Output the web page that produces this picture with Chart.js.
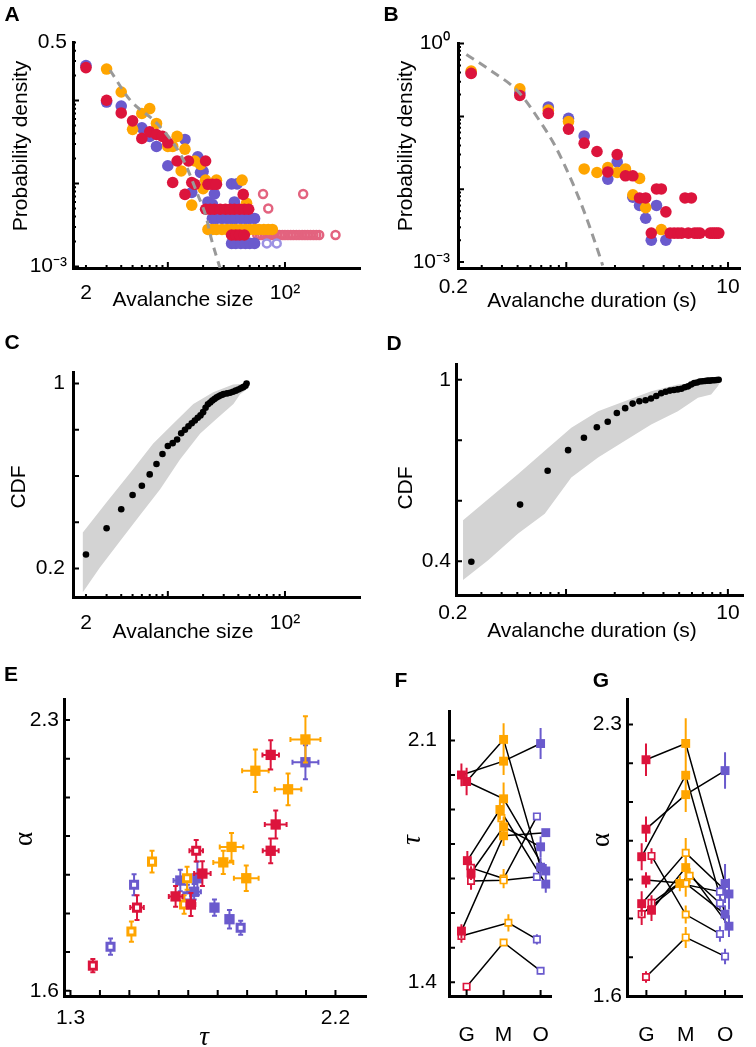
<!DOCTYPE html>
<html lang="en">
<head>
<meta charset="UTF-8">
<title>Avalanche statistics</title>
<style>
  html, body { margin: 0; background: #fff; }
  body {
    position: relative;
    width: 756px;
    height: 1047px;
    overflow: hidden;
    font-family: "Liberation Sans", Arial, sans-serif;
    color: #000;
  }
  canvas { position: absolute; }
  .t {
    position: absolute;
    transform: translate(-50%, -50%);
    font-size: 21px;
    line-height: 1;
    white-space: nowrap;
  }
  .r { transform: translate(-50%, -50%) rotate(-90deg); }
  .k { font-weight: bold; }
  .s { font-family: "Liberation Serif", serif; font-size: 27px; }
  .i { font-style: italic; }
</style>
</head>
<body>
  <canvas id="pA"></canvas>
  <canvas id="pB"></canvas>
  <canvas id="pC"></canvas>
  <canvas id="pD"></canvas>
  <canvas id="pE"></canvas>
  <canvas id="pF"></canvas>
  <canvas id="pG"></canvas>

  <div class="t k" style="left:12px;top:13px">A</div>
  <div class="t k" style="left:391px;top:13px">B</div>
  <div class="t k" style="left:12px;top:341px">C</div>
  <div class="t k" style="left:394px;top:342px">D</div>
  <div class="t k" style="left:11px;top:673px">E</div>
  <div class="t k" style="left:401px;top:679px">F</div>
  <div class="t k" style="left:601px;top:679px">G</div>

  <div class="t r" style="left:19px;top:146px">Probability density</div>
  <div class="t" style="left:183px;top:298px">Avalanche size</div>
  <div class="t r" style="left:404px;top:146px">Probability density</div>
  <div class="t" style="left:592px;top:299px">Avalanche duration (s)</div>
  <div class="t r" style="left:17px;top:487px">CDF</div>
  <div class="t" style="left:183px;top:630px">Avalanche size</div>
  <div class="t r" style="left:404px;top:488px">CDF</div>
  <div class="t" style="left:592px;top:629px">Avalanche duration (s)</div>
  <div class="t r s" style="left:23px;top:839px">α</div>
  <div class="t s i" style="left:204px;top:1036px">τ</div>
  <div class="t r s i" style="left:411px;top:840px">τ</div>
  <div class="t r s" style="left:600px;top:840px">α</div>

  <script src="https://cdn.jsdelivr.net/npm/chart.js"></script>
  <script>
    Chart.defaults.font.family = '"Liberation Sans", Arial, sans-serif';
    Chart.defaults.font.size = 21;
    Chart.defaults.color = '#000';

    const RED = '#dc143c', ORANGE = '#ffa500', BLUE = '#6a5acd';
    const PINK = '#e3637f', LILAC = '#9d92e3', GREY = '#999999', BAND = '#d3d3d3';

    // === A: avalanche size, probability density  [size, density]
    const aBlue = [[2,0.265],[3,0.096],[4,0.086],[6,0.047],[7,0.037],[8,0.028],[10,0.0164],[14,0.034],
      [16,0.0078],[18,0.021],[19,0.0136],[20,0.014],[22,0.006],[24,0.0056],[25,0.0075],[35,0.0099],
      [39,0.0099],[37,0.006],
      [24,0.0038],[26,0.0038],[29,0.0038],[32,0.0038],[35,0.0038],[38,0.0038],[42,0.0038],[46,0.0038],
      [50,0.0038],[55,0.0038],
      [35,0.0019],[38,0.0019],[42,0.0019],[46,0.0019],[50,0.0019],[55,0.0019]];
    const aOrange = [[3,0.24],[4,0.127],[5,0.045],[6,0.07],[7,0.08],[8,0.053],[10,0.028],[11,0.028],
      [12,0.037],[13,0.0142],[14,0.026],[16,0.0055],[17,0.0187],[19,0.017],[20,0.0087],[21,0.011],
      [26,0.011],[43,0.011],[47,0.0058],
      [22,0.0028],[24,0.0028],[26,0.0028],[29,0.0028],[32,0.0028],[35,0.0028],[38,0.0028],[42,0.0028],
      [46,0.0028],[50,0.0028],[55,0.0028],[60,0.0028],[66,0.0028],[72,0.0028],[78,0.0028]];
    const aRed = [[2,0.25],[3,0.101],[4,0.071],[5,0.057],[6,0.035],[7,0.042],[8,0.039],[9,0.037],
      [10,0.031],[11,0.0103],[12,0.0187],[14,0.0074],[15,0.0187],[16,0.0103],[17,0.0098],[21,0.0187],
      [22,0.0098],[24,0.0098],[26,0.0098],[44,0.0074],
      [21,0.0049],[23,0.0049],[25,0.0049],[28,0.0049],[31,0.0049],[34,0.0049],[37,0.0049],[41,0.0049],
      [45,0.0049],[49,0.0049],
      [35,0.0024],[38,0.0024],[41,0.0024],[45,0.0024]];
    const aPinkOpen = [[65,0.0075],[143,0.0075],[72,0.005],[270,0.0024],
      [58,0.0024],[61,0.0024],[64,0.0024],[68,0.0024],[72,0.0024],[76,0.0024],[80,0.0024],[85,0.0024],
      [90,0.0024],[95,0.0024],[100,0.0024],[106,0.0024],[112,0.0024],[118,0.0024],[125,0.0024],
      [132,0.0024],[140,0.0024],[148,0.0024],[156,0.0024],[165,0.0024],[175,0.0024],[185,0.0024],
      [196,0.0024]];
    const aLilacOpen = [[70,0.0019],[85,0.0019]];
    const aFit = [[3.21,0.232],[4.75,0.102],[8.24,0.0514],[13.2,0.0208],[18.1,0.0072],[21.2,0.004],
      [23.3,0.00226],[25.3,0.0015],[27.9,0.00096]];

    // === B: avalanche duration, probability density  [duration (s), density]
    const bBlue = [[0.258,0.40],[0.516,0.21],[0.774,0.135],[1.032,0.094],[1.29,0.054],[1.806,0.0138],
      [2.064,0.0237],[2.58,0.0078],[2.838,0.006],[3.096,0.004],[3.354,0.002],[3.612,0.006],[4.128,0.002]];
    const bOrange = [[0.258,0.42],[0.516,0.239],[0.774,0.122],[1.032,0.085],[1.29,0.019],[1.548,0.017],
      [1.806,0.0198],[2.064,0.017],[2.322,0.019],[2.58,0.0084],[2.838,0.0141],[3.096,0.0056],[3.87,0.0028]];
    const bRed = [[0.258,0.39],[0.516,0.194],[0.774,0.11],[1.032,0.067],[1.29,0.043],[1.548,0.033],
      [1.806,0.0173],[2.064,0.030],[2.322,0.0153],[2.58,0.0153],[2.838,0.0076],[3.096,0.0076],
      [3.354,0.0025],[3.612,0.0101],[3.87,0.0101],[4.128,0.0049],[5.418,0.0076],[5.934,0.0076],
      [4.386,0.0025],[4.644,0.0025],[4.902,0.0025],[5.16,0.0025],[5.676,0.0025],[6.192,0.0025],
      [6.45,0.0025],[6.708,0.0025],[7.74,0.0025],[8.0,0.0025],[8.256,0.0025],[8.514,0.0025],[8.77,0.0025]];
    const bFit = [[0.241,0.71],[0.331,0.446],[0.505,0.218],[0.721,0.073],[0.855,0.039],[1.09,0.0124],
      [1.31,0.0045],[1.55,0.00155],[1.68,0.0009]];

    // === C: CDF of avalanche size, data and surrogate band
    const cSize = [2,3,4,5,6,7,8,9,10,11,12,13,14,15,16,17,18,19,20,21,22,23,24,25,26,27,28,29,30,
      32,34,36,38,40,42,44,46,47];
    const cCdf = [0.261,0.374,0.456,0.518,0.558,0.607,0.652,0.695,0.73,0.742,0.758,0.785,0.80,0.815,
      0.828,0.84,0.852,0.862,0.876,0.895,0.91,0.918,0.926,0.933,0.939,0.944,0.948,0.951,0.954,
      0.957,0.96,0.964,0.969,0.974,0.979,0.984,0.99,1.0];
    const cBandHi = [[1.88,0.356],[3.0,0.487],[5.03,0.628],[7.5,0.741],[11.1,0.826],[16.5,0.911],
      [24.4,0.962],[36,0.996],[48.6,1.0]];
    const cBandLo = [[1.88,0.097],[2.63,0.204],[3.9,0.318],[5.8,0.431],[8.6,0.543],[12.7,0.671],
      [18.9,0.784],[26.1,0.847],[36.3,0.911],[41.4,0.953],[47.3,0.975]];

    // === D: CDF of avalanche duration
    const dDur = [0.26,0.52,0.77,1.03,1.29,1.55,1.81,2.06,2.32,2.58,2.84,3.1,3.35,3.61,3.87,4.13,
      4.39,4.64,4.9,5.16,5.42,5.68,5.93,6.19,6.45,6.71,6.97,7.22,7.48,7.74,8.0,8.26,8.51,8.77];
    const dCdf = [0.398,0.587,0.699,0.767,0.808,0.843,0.861,0.89,0.906,0.921,0.929,0.932,0.938,0.946,
      0.955,0.96,0.964,0.966,0.968,0.97,0.975,0.978,0.984,0.989,0.991,0.994,0.995,0.996,0.997,0.997,
      0.998,0.998,0.999,1.0];
    const dBandHi = [[0.231,0.535],[0.506,0.688],[0.739,0.765],[1.078,0.841],[1.577,0.896],[2.30,0.929],
      [3.36,0.962],[4.91,0.984],[7.88,0.994],[9.09,0.998]];
    const dBandLo = [[0.231,0.338],[0.33,0.403],[0.506,0.491],[0.739,0.557],[1.078,0.677],[1.577,0.743],
      [2.30,0.797],[3.36,0.852],[4.91,0.896],[6.53,0.94],[7.88,0.951],[8.67,0.978]];

    // === E: alpha vs tau  [tau, alpha, tau err, alpha err, open]
    const eRed = [[1.376,1.665,0.008,0.017,1],[1.526,1.815,0.023,0.032,1],[1.727,1.962,0.023,0.028,1],
      [1.657,1.844,0.023,0.027,0],[1.709,1.823,0.015,0.03,0],[1.748,1.903,0.028,0.032,0],
      [1.98,1.962,0.027,0.032,0],[1.997,2.03,0.037,0.036,0],[1.98,2.21,0.028,0.038,0]];
    const eOrange = [[1.507,1.753,0.008,0.026,1],[1.577,1.934,0.01,0.028,1],[1.686,1.823,0.01,0.024,1],
      [1.696,1.891,0.01,0.03,1],[1.819,1.932,0.034,0.03,0],[1.847,1.972,0.04,0.036,0],
      [1.897,1.891,0.042,0.033,0],[1.928,2.169,0.045,0.055,0],[2.039,2.121,0.045,0.041,0],
      [2.098,2.25,0.051,0.06,0]];
    const eBlue = [[1.436,1.714,0.01,0.021,1],[1.516,1.874,0.01,0.027,1],[1.697,1.844,0.01,0.03,1],
      [1.878,1.763,0.01,0.018,1],[1.673,1.885,0.023,0.028,0],[1.72,1.856,0.023,0.02,0],
      [1.731,1.891,0.01,0.043,0],[1.789,1.815,0.01,0.021,0],[1.84,1.785,0.01,0.024,0],
      [2.098,2.191,0.044,0.044,0]];

    // === F: tau per condition  [position, tau, err, open]; links = [G, M, O] indexes
    const fRed = [[0.86,2.0,0.033,0],[1.0,1.981,0.04,0],[1.02,1.752,0.028,0],[1.12,1.716,0.02,0],
      [1.12,1.731,0.02,1],[1.12,1.693,0.025,1],[0.86,1.548,0.02,0],[0.86,1.534,0.02,1],[1.0,1.387,0.01,1]];
    const fOrange = [[2.0,2.103,0.047,0],[2.0,2.04,0.04,0],[2.0,1.931,0.047,0],[1.9,1.9,0.03,0],
      [1.94,1.875,0.03,1],[2.0,1.85,0.03,0],[2.0,1.824,0.03,0],[2.0,1.70,0.028,1],[2.13,1.572,0.025,1],
      [2.0,1.515,0.01,1],[2.0,1.695,0.02,1]];
    const fBlue = [[3.0,2.091,0.045,0],[2.9,1.88,0.01,1],[3.14,1.833,0.01,0],[3.0,1.792,0.03,0],
      [3.0,1.733,0.028,0],[3.14,1.722,0.02,0],[3.14,1.684,0.025,0],[2.9,1.705,0.01,1],
      [2.9,1.524,0.015,1],[3.0,1.433,0.01,1]];
    const fLinks = [[1,0,4],[0,1,0],[1,2,5],[2,3,6],[3,5,3],[6,6,2],[4,7,1],[5,10,7],[7,8,8],[8,9,9]];

    // === G: alpha per condition
    const gRed = [[0.99,2.209,0.042,0],[0.99,2.03,0.033,0],[0.88,1.959,0.035,0],[1.13,1.961,0.02,1],
      [0.99,1.899,0.02,0],[0.88,1.838,0.032,0],[1.13,1.84,0.02,1],[1.13,1.821,0.028,0],
      [0.88,1.811,0.028,1],[0.99,1.649,0.015,1]];
    const gOrange = [[2.0,2.251,0.065,0],[2.0,2.169,0.045,0],[2.0,2.119,0.045,0],[2.0,1.969,0.038,1],
      [2.0,1.931,0.03,0],[2.1,1.91,0.02,1],[1.85,1.89,0.02,0],[2.0,1.89,0.034,1],[2.0,1.81,0.023,1],
      [2.0,1.751,0.027,1]];
    const gBlue = [[3.0,2.181,0.047,0],[3.0,1.89,0.05,0],[3.1,1.863,0.04,0],[2.87,1.869,0.015,1],
      [2.87,1.839,0.015,1],[3.0,1.811,0.023,0],[3.1,1.78,0.028,0],[2.87,1.76,0.02,1],[3.0,1.702,0.02,1]];
    const gLinks = [[0,0,1],[1,2,0],[2,1,5],[3,8,7],[4,7,5],[5,3,2],[6,5,4],[7,4,6],[8,6,3],[9,9,8]];

    // === axis ticks
    const sizeTicks = [2,3,4,5,6,7,8,9,10,20,30,40,50,60,70,80,90,100];
    const durTicks = [0.2,0.3,0.4,0.5,0.6,0.7,0.8,0.9,1,2,3,4,5,6,7,8,9,10];
    const densTicksA = [0.001,0.002,0.003,0.004,0.005,0.006,0.007,0.008,0.009,0.01,0.02,0.03,0.04,
      0.05,0.06,0.07,0.08,0.09,0.1,0.2,0.3,0.4,0.5];
    const densTicksB = [0.001,0.002,0.003,0.004,0.005,0.006,0.007,0.008,0.009,0.01,0.02,0.03,0.04,
      0.05,0.06,0.07,0.08,0.09,0.1,0.2,0.3,0.4,0.5,0.6,0.7,0.8,0.9,1];
    const tauTicksE = [1.3,1.4,1.5,1.6,1.7,1.8,1.9,2.0,2.1,2.2];
    const alphaTicks = [1.6,1.7,1.8,1.9,2.0,2.1,2.2,2.3];
    const tauTicksF = [1.4,1.5,1.6,1.7,1.8,1.9,2.0,2.1];
    const condTicks = [1,2,3];
    const condLabels = {1: 'G', 2: 'M', 3: 'O'};

    // error bars drawn just before each dataset's markers
    const errBars = {
      id: 'errBars',
      beforeDatasetDraw(chart, args) {
        const ds = chart.data.datasets[args.index];
        if (!ds.errY) return;
        const {ctx, scales: {x, y}} = chart;
        const c = ds.cap;
        ctx.save();
        ctx.strokeStyle = ds.barColor;
        ctx.lineWidth = 2;
        ctx.beginPath();
        ds.data.forEach((p, i) => {
          const px = x.getPixelForValue(p.x), py = y.getPixelForValue(p.y);
          const ey = ds.errY[i], ex = ds.errX[i];
          if (ey) {
            const y1 = y.getPixelForValue(p.y - ey), y2 = y.getPixelForValue(p.y + ey);
            ctx.moveTo(px, y1); ctx.lineTo(px, y2);
            if (c) {
              ctx.moveTo(px - c, y1); ctx.lineTo(px + c, y1);
              ctx.moveTo(px - c, y2); ctx.lineTo(px + c, y2);
            }
          }
          if (ex) {
            const x1 = x.getPixelForValue(p.x - ex), x2 = x.getPixelForValue(p.x + ex);
            ctx.moveTo(x1, py); ctx.lineTo(x2, py);
            if (c) {
              ctx.moveTo(x1, py - c); ctx.lineTo(x1, py + c);
              ctx.moveTo(x2, py - c); ctx.lineTo(x2, py + c);
            }
          }
        });
        ctx.stroke();
        ctx.restore();
      }
    };

    // inward tick marks, as in the original figure
    function tickMarks(xa, ya) {
      return {
        id: 'tickMarks',
        afterDatasetsDraw(chart) {
          const {ctx, chartArea: area, scales} = chart;
          const len = (a, v) => (a.major && !a.major.includes(v) ? 3 : 6);
          ctx.save();
          ctx.strokeStyle = '#000';
          ctx.lineWidth = 2;
          ctx.beginPath();
          for (const v of xa.ticks) {
            if (v < xa.min || v > xa.max) continue;
            const px = scales.x.getPixelForValue(v);
            ctx.moveTo(px, area.bottom);
            ctx.lineTo(px, area.bottom - len(xa, v));
          }
          for (const v of ya.ticks) {
            if (v < ya.min || v > ya.max) continue;
            const py = scales.y.getPixelForValue(v);
            ctx.moveTo(area.left, py);
            ctx.lineTo(area.left + len(ya, v), py);
          }
          ctx.stroke();
          ctx.restore();
        }
      };
    }

    function scaleOpts(a, position, size) {
      return {
        type: a.type, position, min: a.min, max: a.max, bounds: 'data',
        grid: {display: false, drawTicks: false},
        border: {display: true, color: '#000', width: 3},
        ticks: {
          autoSkip: false, maxRotation: 0, minRotation: 0, padding: a.pad,
          callback: v => (v in a.labels ? a.labels[v] : '')
        },
        afterBuildTicks: s => { s.ticks = a.ticks.map(value => ({value})); },
        afterFit: s => { if (position === 'bottom') s.height = size; else s.width = size; }
      };
    }

    // box = plot area on the page: [left, top, right, bottom]
    function panel(id, box, xa, ya, yW, datasets) {
      const [L, T, R, B] = box;
      const padT = 16, padR = 12, xH = 60;
      const cv = document.getElementById(id);
      cv.width = R - L + yW + padR;
      cv.height = B - T + padT + xH;
      cv.style.left = (L - yW) + 'px';
      cv.style.top = (T - padT) + 'px';
      return new Chart(cv, {
        type: 'line',
        data: {datasets},
        options: {
          responsive: false, animation: false, events: [],
          layout: {padding: {top: padT, right: padR, left: 0, bottom: 0}, autoPadding: false},
          plugins: {legend: {display: false}, tooltip: {enabled: false}},
          scales: {x: scaleOpts(xa, 'bottom', xH), y: scaleOpts(ya, 'left', yW)}
        },
        plugins: [errBars, tickMarks(xa, ya)]
      });
    }

    const xy = rows => rows.map(r => ({x: r[0], y: r[1]}));

    function dots(rows, color, r, order, open) {
      return {
        data: xy(rows), showLine: false, clip: false, order,
        pointStyle: 'circle', pointRadius: r,
        pointBackgroundColor: open ? 'rgba(0,0,0,0)' : color,
        pointBorderColor: color, pointBorderWidth: open ? 2.5 : 0
      };
    }

    function fitLine(rows, dash) {
      return {
        data: xy(rows), borderColor: GREY, borderWidth: 3, borderDash: dash,
        pointRadius: 0, cubicInterpolationMode: 'monotone', order: 0
      };
    }

    function band(hi, lo) {
      return {
        data: xy(hi.concat(lo.slice().reverse())), fill: 'shape', backgroundColor: BAND,
        borderWidth: 0, pointRadius: 0, order: 9
      };
    }

    function squares(rows, color, open, st, order) {
      const sel = rows.filter(r => r[r.length - 1] === open);
      return {
        data: xy(sel),
        errX: sel.map(r => (r.length === 5 ? r[2] : 0)),
        errY: sel.map(r => r[r.length - 2]),
        barColor: color, cap: st.cap,
        showLine: false, clip: false, order,
        pointStyle: 'rect', pointRadius: open ? st.ro : st.rf,
        pointBackgroundColor: open ? '#fff' : color,
        pointBorderColor: color, pointBorderWidth: open ? st.bw : 0
      };
    }

    function links(G, M, O, list) {
      return list.map(([g, m, o]) => ({
        data: xy([G[g], M[m], O[o]]), borderColor: '#000', borderWidth: 1.5,
        pointRadius: 0, order: 8
      }));
    }

    // ---- A
    panel('pA', [73, 40, 360, 268],
      {type: 'logarithmic', min: 1.55, max: 437, ticks: sizeTicks, major: [10, 100],
       labels: {2: '2', 100: '10²'}, pad: 13},
      {type: 'logarithmic', min: 0.00096, max: 0.5, ticks: densTicksA, major: [0.001, 0.01, 0.1],
       labels: {0.5: '0.5', 0.001: '10⁻³'}, pad: 6},
      73,
      [fitLine(aFit, [8, 6]), dots(aRed, RED, 5.8, 1), dots(aOrange, ORANGE, 5.8, 2),
       dots(aBlue, BLUE, 5.8, 3), dots(aLilacOpen, LILAC, 4, 4, true), dots(aPinkOpen, PINK, 4, 5, true)]);

    // ---- B
    panel('pB', [458, 39, 740, 268],
      {type: 'logarithmic', min: 0.214, max: 11.86, ticks: durTicks, major: [1, 10],
       labels: {0.2: '0.2', 10: '10'}, pad: 7},
      {type: 'logarithmic', min: 0.00083, max: 1, ticks: densTicksB, major: [0.001, 0.01, 0.1, 1],
       labels: {1: '10⁰', 0.001: '10⁻³'}, pad: 8},
      70,
      [fitLine(bFit, [9, 6]), dots(bRed, RED, 5.8, 1), dots(bOrange, ORANGE, 5.8, 2), dots(bBlue, BLUE, 5.8, 3)]);

    // ---- C
    panel('pC', [73, 368, 360, 597],
      {type: 'logarithmic', min: 1.55, max: 437, ticks: sizeTicks, major: [10, 100],
       labels: {2: '2', 100: '10²'}, pad: 14},
      {type: 'linear', min: 0.077, max: 1.047, ticks: [0.2, 0.4, 0.6, 0.8, 1],
       labels: {1: '1', 0.2: '0.2'}, pad: 8},
      73,
      [dots(cSize.map((s, i) => [s, cCdf[i]]), '#000', 3.3, 0), band(cBandHi, cBandLo)]);

    // ---- D
    panel('pD', [456, 363, 743, 595],
      {type: 'logarithmic', min: 0.209, max: 12.4, ticks: durTicks, major: [1, 10],
       labels: {0.2: '0.2', 10: '10'}, pad: 6},
      {type: 'linear', min: 0.288, max: 1.05, ticks: [0.4, 0.6, 0.8, 1],
       labels: {1: '1', 0.4: '0.4'}, pad: 5},
      66,
      [dots(dDur.map((d, i) => [d, dCdf[i]]), '#000', 3.3, 0), band(dBandHi, dBandLo)]);

    // ---- E
    const stE = {rf: 7.3, ro: 5, bw: 3, cap: 2.5};
    panel('pE', [64, 698, 366, 996],
      {type: 'linear', min: 1.278, max: 2.3037, ticks: tauTicksE, labels: {1.3: '1.3', 2.2: '2.2'}, pad: 10},
      {type: 'linear', min: 1.5864, max: 2.353, ticks: alphaTicks, labels: {1.6: '1.6', 2.3: '2.3'}, pad: 5},
      60,
      [squares(eRed, RED, 0, stE, 1), squares(eRed, RED, 1, stE, 1),
       squares(eOrange, ORANGE, 0, stE, 2), squares(eOrange, ORANGE, 1, stE, 2),
       squares(eBlue, BLUE, 0, stE, 3), squares(eBlue, BLUE, 1, stE, 3)]);

    // ---- F
    const stF = {rf: 6.3, ro: 4.5, bw: 1.7, cap: 0};
    panel('pF', [449, 703, 565, 996],
      {type: 'linear', min: 0.524, max: 3.286, ticks: condTicks, labels: condLabels, pad: 27},
      {type: 'linear', min: 1.36, max: 2.1835, ticks: tauTicksF, labels: {1.4: '1.4', 2.1: '2.1'}, pad: 12},
      60,
      [squares(fRed, RED, 0, stF, 1), squares(fRed, RED, 1, stF, 1),
       squares(fOrange, ORANGE, 0, stF, 2), squares(fOrange, ORANGE, 1, stF, 2),
       squares(fBlue, BLUE, 0, stF, 3), squares(fBlue, BLUE, 1, stF, 3)]
        .concat(links(fRed, fOrange, fBlue, fLinks)));

    // ---- G
    panel('pG', [627, 698, 750, 996],
      {type: 'linear', min: 0.507, max: 3.436, ticks: condTicks, labels: condLabels, pad: 27},
      {type: 'linear', min: 1.6, max: 2.364, ticks: alphaTicks, labels: {1.6: '1.6', 2.3: '2.3'}, pad: 5},
      45,
      [squares(gRed, RED, 0, stF, 1), squares(gRed, RED, 1, stF, 1),
       squares(gOrange, ORANGE, 0, stF, 2), squares(gOrange, ORANGE, 1, stF, 2),
       squares(gBlue, BLUE, 0, stF, 3), squares(gBlue, BLUE, 1, stF, 3)]
        .concat(links(gRed, gOrange, gBlue, gLinks)));
  </script>
</body>
</html>
